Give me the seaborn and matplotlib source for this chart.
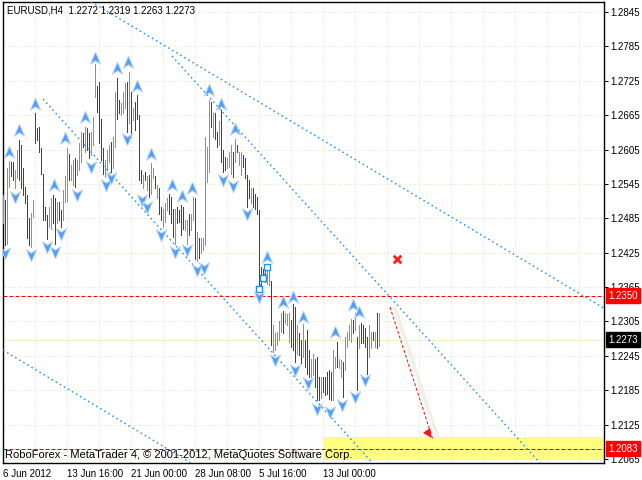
import numpy as np
import pandas as pd
import matplotlib
matplotlib.use("Agg")
import matplotlib.pyplot as plt
import matplotlib.transforms as mtransforms
import seaborn as sns

# EURUSD H4 bars (bar index 0 = 6 Jun 2012 00:00)
highs = [
    1.2526, 1.2517, 1.2572, 1.2585, 1.2583, 1.2584, 1.2569, 1.2604, 1.2622, 1.2613,
    1.2572, 1.2540, 1.2526, 1.2485, 1.2494, 1.2517, 1.2668, 1.2642, 1.2645, 1.2607,
    1.2563, 1.2505, 1.2491, 1.2505, 1.2520, 1.2526, 1.2520, 1.2514, 1.2514, 1.2499,
    1.2534, 1.2558, 1.2607, 1.2598, 1.2578, 1.2587, 1.2590, 1.2587, 1.2616, 1.2636,
    1.2633, 1.2645, 1.2642, 1.2633, 1.2636, 1.2662, 1.2755, 1.2715, 1.2723, 1.2659,
    1.2607, 1.2587, 1.2604, 1.2613, 1.2618, 1.2627, 1.2706, 1.2729, 1.2691, 1.2686,
    1.2706, 1.2721, 1.2723, 1.2741, 1.2706, 1.2677, 1.2688, 1.2700, 1.2665, 1.2569,
    1.2560, 1.2566, 1.2558, 1.2560, 1.2581, 1.2572, 1.2558, 1.2543, 1.2537, 1.2505,
    1.2502, 1.2511, 1.2520, 1.2528, 1.2522, 1.2502, 1.2502, 1.2505, 1.2499, 1.2508,
    1.2505, 1.2482, 1.2482, 1.2493, 1.2493, 1.2522, 1.2520, 1.2461, 1.2450, 1.2450,
    1.2450, 1.2627, 1.2610, 1.2691, 1.2688, 1.2668, 1.2668, 1.2636, 1.2654, 1.2674,
    1.2604, 1.2592, 1.2590, 1.2601, 1.2613, 1.2601, 1.2624, 1.2613, 1.2601, 1.2601,
    1.2595, 1.2590, 1.2560, 1.2552, 1.2537, 1.2537, 1.2528, 1.2523, 1.2500, 1.2400,
    1.2396, 1.2400, 1.2405, 1.2400, 1.2375, 1.2299, 1.2284, 1.2287, 1.2305, 1.2319,
    1.2324, 1.2319, 1.2318, 1.2319, 1.2307, 1.2336, 1.2331, 1.2299, 1.2284, 1.2273,
    1.2300, 1.2273, 1.2290, 1.2255, 1.2240, 1.2249, 1.2240, 1.2243, 1.2208, 1.2208,
    1.2208, 1.2208, 1.2217, 1.2220, 1.2217, 1.2255, 1.2243, 1.2270, 1.2240, 1.2238,
    1.2235, 1.2278, 1.2287, 1.2299, 1.2310, 1.2307, 1.2319, 1.2278, 1.2299, 1.2302,
    1.2299, 1.2293, 1.2278, 1.2299, 1.2287, 1.2287, 1.2287, 1.2319, 1.2319,
]
lows = [
    1.2476, 1.2438, 1.2441, 1.2540, 1.2558, 1.2552, 1.2537, 1.2555, 1.2552, 1.2537,
    1.2526, 1.2511, 1.2450, 1.2438, 1.2435, 1.2488, 1.2616, 1.2622, 1.2601, 1.2563,
    1.2482, 1.2482, 1.2448, 1.2470, 1.2467, 1.2476, 1.2441, 1.2476, 1.2482, 1.2470,
    1.2482, 1.2514, 1.2516, 1.2552, 1.2552, 1.2543, 1.2540, 1.2560, 1.2569, 1.2584,
    1.2610, 1.2601, 1.2604, 1.2590, 1.2595, 1.2613, 1.2697, 1.2671, 1.2616, 1.2587,
    1.2562, 1.2557, 1.2569, 1.2584, 1.2566, 1.2572, 1.2610, 1.2659, 1.2668, 1.2665,
    1.2668, 1.2677, 1.2636, 1.2651, 1.2627, 1.2656, 1.2639, 1.2659, 1.2552, 1.2546,
    1.2537, 1.2552, 1.2534, 1.2522, 1.2528, 1.2555, 1.2537, 1.2520, 1.2493, 1.2482,
    1.2470, 1.2479, 1.2499, 1.2493, 1.2476, 1.2453, 1.2441, 1.2476, 1.2479, 1.2456,
    1.2467, 1.2464, 1.2441, 1.2456, 1.2464, 1.2482, 1.2414, 1.2410, 1.2415, 1.2424,
    1.2429, 1.2438, 1.2549, 1.2566, 1.2645, 1.2627, 1.2624, 1.2610, 1.2613, 1.2584,
    1.2566, 1.2569, 1.2572, 1.2575, 1.2563, 1.2557, 1.2584, 1.2601, 1.2578, 1.2560,
    1.2575, 1.2555, 1.2505, 1.2520, 1.2511, 1.2505, 1.2502, 1.2493, 1.2366, 1.2365,
    1.2378, 1.2374, 1.2370, 1.2368, 1.2264, 1.2252, 1.2255, 1.2264, 1.2273, 1.2287,
    1.2284, 1.2302, 1.2299, 1.2270, 1.2261, 1.2255, 1.2235, 1.2249, 1.2246, 1.2232,
    1.2243, 1.2226, 1.2214, 1.2208, 1.2208, 1.2211, 1.2191, 1.2168, 1.2168, 1.2171,
    1.2182, 1.2176, 1.2179, 1.2170, 1.2168, 1.2168, 1.2223, 1.2226, 1.2223, 1.2208,
    1.2174, 1.2220, 1.2261, 1.2273, 1.2270, 1.2284, 1.2290, 1.2185, 1.2258, 1.2267,
    1.2267, 1.2261, 1.2214, 1.2243, 1.2258, 1.2273, 1.2261, 1.2258, 1.2263,
]
# G = bull bar, R = bear bar
bar_dir = ("GRGGRRGGRR" "RRRRGGRRRR" "RRRGGRRGRR" "GGGRGGRGGG" "RGRRGGGRRR"
           "RGGGRGGRRG" "GGRGRGRRRR" "GRGRGGRGRR" "GGGRRRGRRR" "RGGRGGRGRG"
           "GGGGRGRRGR" "RRGGGRGRGG" "RRRRGRRRRR" "RRGGRGGGGG" "RGGGRRRGRR"
           "GRRRGGRRRG" "RRRRRGGRGG" "RGGGGRGRGR" "RRRGGRGRG")

# fractal arrows (bar position, price)
up_x = [3, 8, 16, 25.5, 31, 41, 46, 57, 62.5, 67, 74, 84.5, 89.5, 94.5, 103, 109,
        116, 132, 140, 145, 150, 166, 175, 178]
up_p = [1.2601, 1.2639, 1.2684, 1.2543, 1.2625, 1.2662, 1.2765, 1.2747, 1.2758,
        1.2716, 1.2597, 1.2543, 1.2524, 1.2538, 1.2709, 1.2684, 1.2641, 1.2417,
        1.2339, 1.2348, 1.2313, 1.2287, 1.2334, 1.2321]
dn_x = [1, 6, 14, 22, 26, 29, 37, 44, 51.5, 54, 62, 69.5, 72, 79, 86, 92, 97, 100.5,
        110, 115, 122, 128, 136, 146, 152.5, 157, 163.5, 169.5, 176, 181]
dn_p = [1.2424, 1.2522, 1.2421, 1.2435, 1.2426, 1.2457, 1.2526, 1.2575, 1.2543,
        1.2555, 1.2623, 1.2517, 1.2505, 1.2456, 1.2426, 1.2430, 1.2395, 1.2398,
        1.2552, 1.2541, 1.2493, 1.2348, 1.2238, 1.2220, 1.2198, 1.2152, 1.2147,
        1.2159, 1.2173, 1.2203]

# channel lines (start/end in bar position and price)
channel_x = [[44, 301], [0, 94], [20, 185], [84.5, 268.5]]
channel_p = [[1.2863, 1.2327], [1.2255, 1.2058], [1.2693, 1.2057], [1.2768, 1.2058]]

# small line object with square points
sq_x = [128.2, 130.2, 132.2]
sq_p = [1.2362, 1.2381, 1.2400]

cross_x, cross_p = [197], [1.2414]
arrow_x = [193.5, 215]
arrow_p = [1.2330, 1.2098]
zone_x = [160.2, 301]
zone_p = [1.2063, 1.2103]

level_hi = 1.2350
level_lo = 1.2083
last_price = 1.2273

price_ticks = [1.2065, 1.2125, 1.2185, 1.2245, 1.2305, 1.2365, 1.2425,
               1.2485, 1.2545, 1.2605, 1.2665, 1.2725, 1.2785, 1.2845]
time_ticks = [0, 32, 64, 96, 128, 160]
time_labels = ["6 Jun 2012", "13 Jun 16:00", "21 Jun 00:00", "28 Jun 08:00",
               "5 Jul 16:00", "13 Jul 00:00"]
header = "EURUSD,H4  1.2272 1.2319 1.2263 1.2273"
footer = "RoboForex - MetaTrader 4, \u00a9 2001-2012, MetaQuotes Software Corp."

sns.set_style("white")
plt.rcParams['font.family'] = ['Liberation Sans', 'DejaVu Sans']

grid_c = '#EFEFD2'
blue = '#1E90FF'
px = 0.72  # one pixel in points

fig = plt.figure(figsize=(6.42, 4.80), dpi=100)
ax = fig.add_axes([2.5 / 642, 17 / 480, 601.5 / 642, 461 / 480])
ax.set_xlim(-0.25, 300.5)
ax.set_ylim(1.20580, 1.28624)

# grid
for p in price_ticks:
    ax.axhline(p, color=grid_c, lw=px, ls=(0, (3, 2)), zorder=0)
for v in np.arange(16, 300, 16):
    ax.axvline(v, color=grid_c, lw=px, ls=(0, (3, 2)), zorder=0)

# target zone
ax.fill_between(zone_x, zone_p[0], zone_p[1], color='#FFFF80', lw=0, zorder=1)

ax.axhline(last_price, color='#EEEEC8', lw=px, zorder=1)
ax.axhline(level_hi, color='red', lw=px, ls=(0, (4, 2)), zorder=2)
ax.axhline(level_lo, color='#D00000', lw=px, ls=(0, (4, 2)), zorder=2)

# channel lines
for cx, cp in zip(channel_x, channel_p):
    sns.lineplot(x=cx, y=cp, ax=ax, color=blue, lw=1.0, zorder=3,
                 linestyle=(0, (1.2, 2.2)))

# bars
bars = pd.DataFrame({'i': np.arange(len(highs)), 'high': highs, 'low': lows,
                     'dir': list(bar_dir)})
colors = bars['dir'].map({'G': '#20DD20', 'R': '#E00000'})
ax.vlines(bars['i'], bars['low'], bars['high'], colors=colors, lw=px,
          antialiased=False, zorder=4)

# square-point line
ax.plot(sq_x, sq_p, color=blue, lw=px, zorder=5)
sns.scatterplot(x=sq_x, y=sq_p, ax=ax, marker='s', s=18, facecolor='white',
                edgecolor=blue, linewidth=1.0, zorder=6)

# fractal arrows
up_m = [(0, 1), (-0.8, -0.9), (0, -0.35), (0.8, -0.9), (0, 1)]
dn_m = [(0, -1), (-0.8, 0.9), (0, 0.35), (0.8, 0.9), (0, -1)]
sns.scatterplot(x=up_x, y=up_p, ax=ax, marker=up_m, s=85, color='#4F9EF8',
                edgecolor='#B9D4F7', linewidth=0.7, zorder=7)
sns.scatterplot(x=dn_x, y=dn_p, ax=ax, marker=dn_m, s=85, color='#4F9EF8',
                edgecolor='#B9D4F7', linewidth=0.7, zorder=7)

# forecast arrow with its faint shadow
ax.plot([arrow_x[0] + 2.5, arrow_x[1] + 2.5], [arrow_p[0] - 0.0002, arrow_p[1] + 0.0004],
        color='#F1EFE6', lw=2.5, solid_capstyle='round', zorder=3)
ax.plot(arrow_x, arrow_p, color='#FF1010', lw=px, ls=(0, (3, 2)), zorder=8)
ax.annotate('', xy=(arrow_x[1], arrow_p[1]),
            xytext=(arrow_x[1] - 2.5, arrow_p[1] + 0.0013),
            arrowprops=dict(arrowstyle='-|>', color='#FF1010', lw=px,
                            mutation_scale=13), zorder=8)
sns.scatterplot(x=cross_x, y=cross_p, ax=ax, marker='x', s=30, color='#FF2020',
                linewidth=2.0, zorder=8)

# axes styling
for s in ax.spines.values():
    s.set_color('black')
    s.set_linewidth(1.0)
ax.yaxis.tick_right()
ax.set_yticks(price_ticks)
ax.set_yticklabels([f"{p:.4f}" for p in price_ticks])
ax.set_xticks(time_ticks)
ax.set_xticklabels(time_labels, ha='left')
ax.tick_params(axis='both', direction='out', length=3, width=px, color='black',
               labelsize=7, pad=1.5, labelcolor='black')
ax.set_xlabel('')
ax.set_ylabel('')

tr = mtransforms.blended_transform_factory(ax.transAxes, ax.transData)
for val, bg in [(level_hi, '#FF0000'), (level_lo, '#FF0000'), (last_price, 'black')]:
    ax.text(1.0075, val, f"{val:.4f}", transform=tr, color='white', fontsize=7,
            va='center', ha='left', clip_on=False, zorder=20,
            bbox=dict(boxstyle='square,pad=0.25', fc=bg, ec=bg))

ax.text(0.0075, 0.9805, header, transform=ax.transAxes, fontsize=7, va='center',
        ha='left', color='black', zorder=20)
ax.text(0.004, 0.0175, footer, transform=ax.transAxes, fontsize=8, va='center',
        ha='left', color='black', zorder=20)

fig.savefig('out.png', dpi=100)
